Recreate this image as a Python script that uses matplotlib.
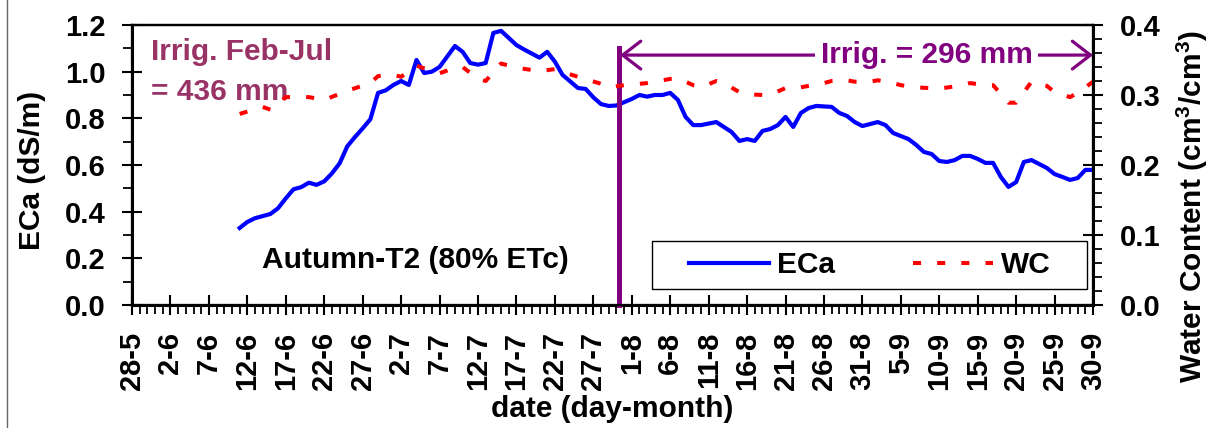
import matplotlib
matplotlib.use("Agg")
import matplotlib.pyplot as plt
from matplotlib.lines import Line2D
from matplotlib.patches import Rectangle
from matplotlib.ticker import MultipleLocator

plt.rcParams["font.family"] = ["Liberation Sans", "DejaVu Sans"]
plt.rcParams["font.weight"] = "bold"
plt.rcParams["axes.labelweight"] = "bold"
plt.rcParams["mathtext.fontset"] = "custom"
plt.rcParams["mathtext.rm"] = "Liberation Sans:bold"
plt.rcParams["mathtext.bf"] = "Liberation Sans:bold"
plt.rcParams["mathtext.it"] = "Liberation Sans:bold:italic"

# day of year (28-5 = 148 ... 30-9 = 273)
start_doy = 148
tick_labels = ["28-5", "2-6", "7-6", "12-6", "17-6", "22-6", "27-6", "2-7", "7-7",
               "12-7", "17-7", "22-7", "27-7", "1-8", "6-8", "11-8", "16-8", "21-8",
               "26-8", "31-8", "5-9", "10-9", "15-9", "20-9", "25-9", "30-9"]

# ECa (dS/m), days after 28-5
eca_day = [14, 15, 16, 18, 19, 20, 21, 22, 23, 24, 25, 26, 27, 28, 29, 30, 31, 32, 33,
           34, 35, 36, 37, 38, 39, 40, 42, 43, 44, 45, 46, 47, 48, 50, 51, 53, 54, 55,
           56, 58, 59, 60, 61, 62, 63, 65, 66, 67, 68, 69, 70, 71, 72, 73, 74, 76, 78,
           79, 80, 81, 82, 83, 84, 85, 86, 87, 88, 89, 91, 92, 93, 94, 95, 97, 98, 99,
           101, 102, 103, 104, 105, 106, 107, 108, 109, 110, 111, 112, 113, 114, 115,
           116, 117, 118, 119, 120, 121, 122, 123, 124, 125]
eca = [0.33, 0.356, 0.372, 0.39, 0.415, 0.457, 0.496, 0.505, 0.524, 0.515, 0.53, 0.564,
       0.607, 0.68, 0.72, 0.757, 0.796, 0.909, 0.92, 0.943, 0.96, 0.943, 1.05, 0.994,
       1.0, 1.02, 1.11, 1.085, 1.037, 1.03, 1.037, 1.166, 1.175, 1.114, 1.095, 1.06,
       1.085, 1.043, 0.986, 0.93, 0.926, 0.89, 0.861, 0.853, 0.855, 0.883, 0.9, 0.893,
       0.9, 0.9, 0.909, 0.879, 0.806, 0.771, 0.771, 0.784, 0.741, 0.703, 0.711, 0.703,
       0.746, 0.754, 0.771, 0.806, 0.763, 0.823, 0.844, 0.853, 0.849, 0.823, 0.81,
       0.784, 0.767, 0.784, 0.771, 0.737, 0.711, 0.686, 0.656, 0.647, 0.617, 0.613,
       0.621, 0.639, 0.639, 0.626, 0.609, 0.609, 0.549, 0.506, 0.527, 0.613, 0.621,
       0.604, 0.587, 0.561, 0.549, 0.536, 0.544, 0.579, 0.579]

# water content (cm3/cm3), days after 28-5
wc_day = [14, 17, 18, 20, 23, 25, 28, 31, 32, 34, 35, 37, 39, 40, 42, 43, 45, 46, 48,
          50, 53, 55, 56, 58, 61, 62, 64, 67, 70, 71, 73, 74, 76, 77, 79, 80, 82, 83,
          85, 87, 88, 90, 91, 93, 94, 96, 97, 99, 100, 102, 105, 108, 109, 111, 112,
          114, 115, 117, 119, 120, 122, 123, 125]
wc = [0.273, 0.283, 0.279, 0.297, 0.297, 0.293, 0.306, 0.317, 0.327, 0.329, 0.326,
      0.342, 0.334, 0.331, 0.339, 0.34, 0.323, 0.32, 0.345, 0.339, 0.334, 0.337, 0.333,
      0.326, 0.316, 0.311, 0.314, 0.317, 0.323, 0.324, 0.314, 0.311, 0.32, 0.317,
      0.304, 0.301, 0.3, 0.3, 0.31, 0.311, 0.313, 0.317, 0.32, 0.321, 0.319, 0.319,
      0.321, 0.317, 0.314, 0.311, 0.309, 0.314, 0.317, 0.314, 0.314, 0.289, 0.289,
      0.319, 0.313, 0.304, 0.297, 0.303, 0.319]

split_day = 63.3          # end of Feb-Jul irrigation period
arrow_level = 1.071

eca_x = [start_doy + d for d in eca_day]
wc_x = [start_doy + d for d in wc_day]
split_x = start_doy + split_day
end_x = start_doy + 125

fig = plt.figure(figsize=(12.09, 4.28), dpi=100)
ax = fig.add_axes([0.1092, 0.2874, 0.7949, 0.6542])
ax2 = ax.twinx()

l1, = ax.plot(eca_x, eca, color="#0000FF", lw=3.0, label="ECa", zorder=3)
l2, = ax2.plot(wc_x, wc, color="#FF0000", lw=2.9, dashes=(2, 4), label="WC")

ax.plot([split_x, split_x], [0, 1.1], color="#800080", lw=3.6, zorder=4, clip_on=False)
ax.annotate("", xy=(end_x, arrow_level), xytext=(split_x, arrow_level),
            arrowprops=dict(arrowstyle="<->,head_length=0.65,head_width=0.5",
                            color="#800080", lw=2.3, mutation_scale=20,
                            shrinkA=1, shrinkB=0), zorder=4)
ax.text(0.827, 0.864, "Irrig. = 296 mm", transform=ax.transAxes, ha="center",
        va="baseline", fontsize=21.5, color="#800080", zorder=5,
        bbox=dict(facecolor="white", edgecolor="none", pad=4))

ax.text(0.02, 0.875, "Irrig. Feb-Jul", transform=ax.transAxes, fontsize=21.5,
        color="#993366", va="baseline")
ax.text(0.02, 0.732, "= 436 mm", transform=ax.transAxes, fontsize=21.5,
        color="#993366", va="baseline")
ax.text(0.135, 0.132, "Autumn-T2 (80% ETc)", transform=ax.transAxes, fontsize=21.5,
        color="black", va="baseline")

ax.set_xlim(start_doy, end_x)
ax.set_ylim(0, 1.2)
ax2.set_ylim(0, 0.4)
ax.set_xticks(range(start_doy, end_x + 1, 5))
ax.set_xticklabels(tick_labels, rotation=90)
ax.xaxis.set_minor_locator(MultipleLocator(1))
ax.yaxis.set_major_locator(MultipleLocator(0.2))
ax.yaxis.set_minor_locator(MultipleLocator(0.1))
ax2.yaxis.set_major_locator(MultipleLocator(0.1))
ax2.yaxis.set_minor_locator(MultipleLocator(0.02))
ax.yaxis.set_major_formatter(lambda v, p: f"{v:.1f}")
ax2.yaxis.set_major_formatter(lambda v, p: f"{v:.1f}")

for a in (ax, ax2):
    a.tick_params(which="major", direction="inout", length=14.4, width=1.5,
                  pad=12, labelsize=21)
    a.tick_params(which="minor", direction="out", length=6.5, width=1.3)
    for s in a.spines.values():
        s.set_linewidth(1.6)
ax.spines["left"].set_linewidth(2.2)
ax2.spines["right"].set_linewidth(2.2)
ax.spines["bottom"].set_linewidth(2.2)

ax.set_ylabel("ECa (dS/m)", fontsize=21.5, fontweight="bold")
ax.yaxis.set_label_coords(-0.0895, 0.482)
ax2.set_ylabel("Water Content (cm$^{3}$/cm$^{3}$)", fontsize=21.5, fontweight="bold")
ax2.yaxis.set_label_coords(1.085, 0.35)
ax.set_xlabel("date (day-month)", fontsize=21.5, fontweight="bold")
ax.xaxis.set_label_coords(0.5, -0.321)

# legend frame + entries
ax2.add_patch(Rectangle((0.541, 0.057), 0.453, 0.172, transform=ax2.transAxes,
                        facecolor="white", edgecolor="black", lw=1.0, zorder=5))
ax2.legend([l1, l2], ["ECa", "WC"], ncol=2, loc="center",
           bbox_to_anchor=(0.7675, 0.143), frameon=False, fontsize=21.5,
           handlelength=2.7, handletextpad=0.25, columnspacing=2.6).set_zorder(6)

fig.add_artist(Line2D([7 / 1209, 7 / 1209], [0, 1], color="#666666", lw=1))

fig.savefig("out.png", dpi=100)
